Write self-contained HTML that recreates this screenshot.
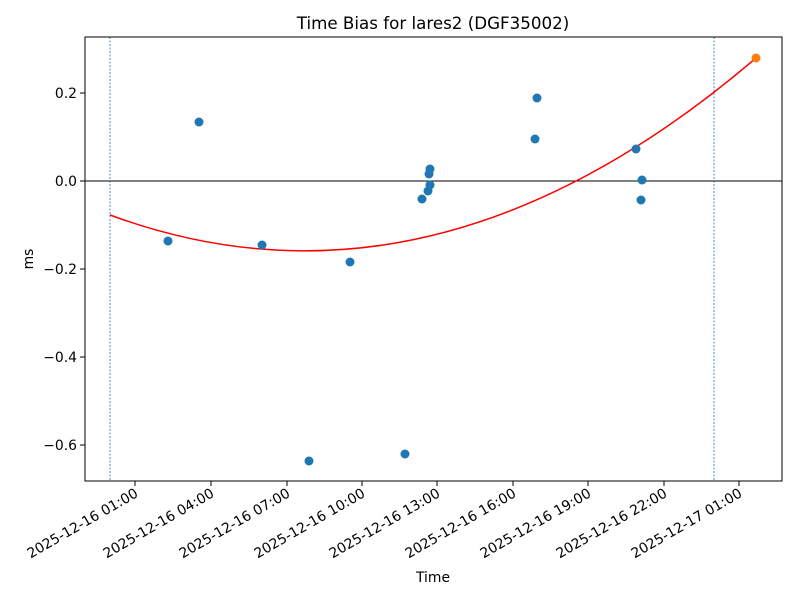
<!DOCTYPE html>
<html><head><meta charset="utf-8"><style>body{margin:0;background:#fff}</style></head><body>
<svg width="800" height="600" xmlns="http://www.w3.org/2000/svg" font-family="DejaVu Sans, sans-serif">
<rect width="800" height="600" fill="#fff"/>
<text x="433" y="29" font-size="16.7" text-anchor="middle">Time Bias for lares2 (DGF35002)</text>
<line x1="110" y1="37" x2="110" y2="481" stroke="#1f77b4" stroke-width="0.8" stroke-dasharray="2,1.5"/>
<line x1="714" y1="37" x2="714" y2="481" stroke="#1f77b4" stroke-width="0.8" stroke-dasharray="2,1.5"/>
<line x1="85" y1="181" x2="782" y2="181" stroke="#000" stroke-width="1"/>
<path d="M110,215 Q433,334 756,58" fill="none" stroke="red" stroke-width="1.5"/>
<g fill="#1f77b4">
<circle cx="168" cy="241" r="4.5"/><circle cx="199" cy="122" r="4.5"/><circle cx="262" cy="245" r="4.5"/>
<circle cx="309" cy="461" r="4.5"/><circle cx="350" cy="262" r="4.5"/><circle cx="405" cy="454" r="4.5"/>
<circle cx="422" cy="199" r="4.5"/><circle cx="428" cy="191" r="4.5"/><circle cx="429" cy="174" r="4.5"/>
<circle cx="430" cy="169" r="4.5"/><circle cx="430" cy="185" r="4.5"/><circle cx="535" cy="139" r="4.5"/>
<circle cx="537" cy="98" r="4.5"/><circle cx="636" cy="149" r="4.5"/><circle cx="642" cy="180" r="4.5"/>
<circle cx="641" cy="200" r="4.5"/>
</g>
<circle cx="756" cy="58" r="4.5" fill="#ff7f0e"/>
<rect x="85" y="37" width="697" height="444" fill="none" stroke="#000" stroke-width="1"/>
<g stroke="#000" stroke-width="1">
<line x1="80" y1="93" x2="85" y2="93"/><line x1="80" y1="181" x2="85" y2="181"/><line x1="80" y1="269" x2="85" y2="269"/><line x1="80" y1="357" x2="85" y2="357"/><line x1="80" y1="445" x2="85" y2="445"/>
<line x1="135" y1="481" x2="135" y2="486"/><line x1="211" y1="481" x2="211" y2="486"/><line x1="287" y1="481" x2="287" y2="486"/><line x1="362" y1="481" x2="362" y2="486"/><line x1="437" y1="481" x2="437" y2="486"/><line x1="513" y1="481" x2="513" y2="486"/><line x1="588" y1="481" x2="588" y2="486"/><line x1="664" y1="481" x2="664" y2="486"/><line x1="739" y1="481" x2="739" y2="486"/>
</g>
<g font-size="13.9" text-anchor="end">
<text x="77" y="98">0.2</text><text x="77" y="186">0.0</text><text x="77" y="274">−0.2</text><text x="77" y="362">−0.4</text><text x="77" y="450">−0.6</text>
</g>
<g font-size="13.9" text-anchor="end">
<text transform="translate(139,496) rotate(-30)">2025-12-16 01:00</text>
<text transform="translate(215,496) rotate(-30)">2025-12-16 04:00</text>
<text transform="translate(291,496) rotate(-30)">2025-12-16 07:00</text>
<text transform="translate(366,496) rotate(-30)">2025-12-16 10:00</text>
<text transform="translate(441,496) rotate(-30)">2025-12-16 13:00</text>
<text transform="translate(517,496) rotate(-30)">2025-12-16 16:00</text>
<text transform="translate(592,496) rotate(-30)">2025-12-16 19:00</text>
<text transform="translate(668,496) rotate(-30)">2025-12-16 22:00</text>
<text transform="translate(743,496) rotate(-30)">2025-12-17 01:00</text>
</g>
<text x="433" y="582" font-size="13.9" text-anchor="middle">Time</text>
<text transform="translate(33,259) rotate(-90)" font-size="13.9" text-anchor="middle">ms</text>
</svg>
</body></html>
